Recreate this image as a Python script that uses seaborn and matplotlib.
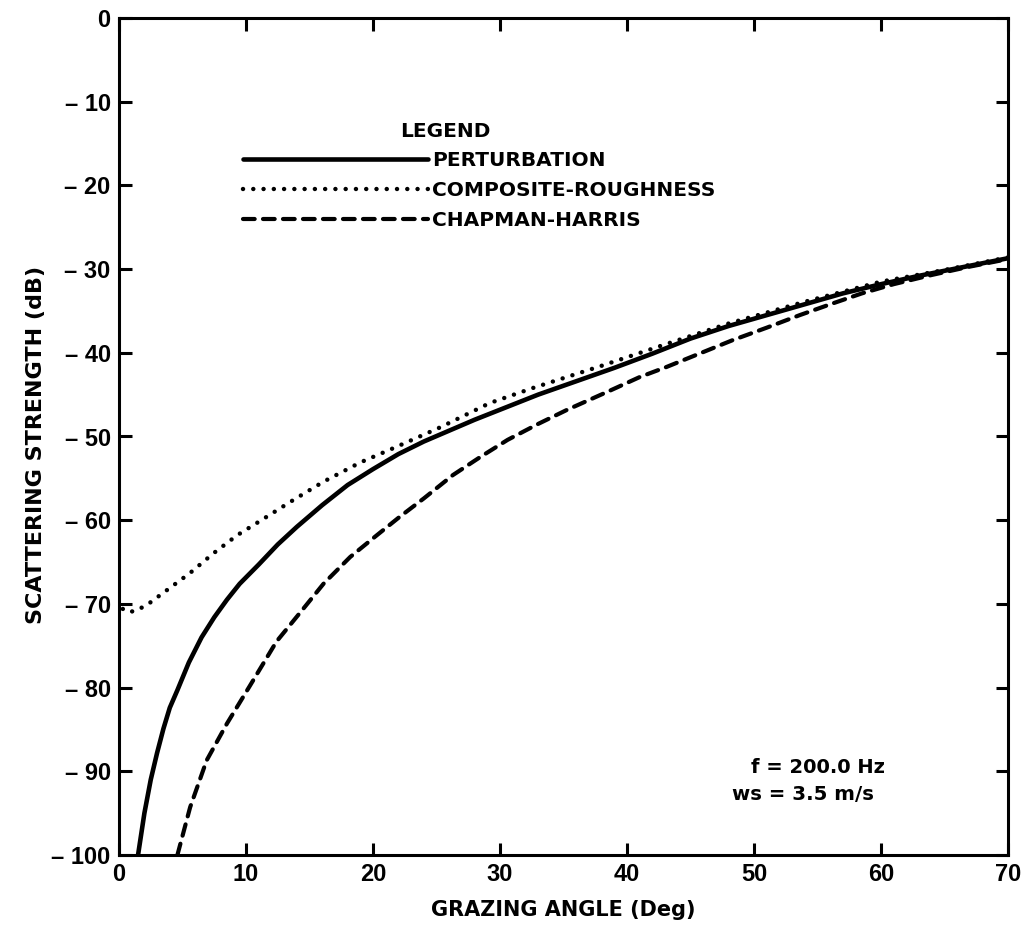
import numpy as np
import pandas as pd
import seaborn as sns
import matplotlib.pyplot as plt

# curves (grazing angle in deg, scattering strength in dB)
pert_angle = [1.5, 2.0, 2.5, 3.0, 3.5, 4.0, 4.6, 5.5, 6.5, 7.5, 8.5, 9.5, 11.0, 12.5, 14.0,
              16.0, 18.0, 20.0, 22.0, 24.0, 26.0, 28.0, 30.0, 33.0, 36.0, 39.0, 42.0, 45.0,
              48.0, 51.0, 54.0, 57.0, 60.0, 63.0, 66.0, 70.0]
pert_db = [-100, -95.0, -91.0, -87.8, -84.9, -82.4, -80.3, -77.0, -74.0, -71.6, -69.5, -67.6,
           -65.3, -62.9, -60.8, -58.2, -55.8, -53.9, -52.1, -50.6, -49.3, -48.0, -46.8, -45.0,
           -43.4, -41.8, -40.1, -38.3, -36.8, -35.5, -34.2, -32.9, -31.8, -30.8, -29.9, -28.7]

comp_angle = [0.3, 0.8, 1.5, 2.4, 3.2, 4.0, 5.6, 7.4, 9.3, 11.1, 13.5, 16.1, 19.0, 21.9, 25.3,
              29.2, 32.6, 37.9, 43.0, 48.0, 54.0, 60.0, 65.0, 70.0]
comp_db = [-70.6, -71.0, -70.7, -69.9, -69.0, -68.1, -66.3, -64.0, -61.8, -60.1, -57.8, -55.4,
           -53.1, -51.2, -48.9, -46.0, -44.2, -41.6, -39.0, -36.5, -33.9, -31.5, -30.1, -28.6]

chap_angle = [4.6, 5.6, 6.9, 8.5, 10.3, 12.4, 14.5, 16.1, 18.2, 20.3, 22.1, 24.0, 26.3, 28.5,
              30.6, 33.0, 35.3, 38.4, 41.0, 43.1, 45.7, 48.3, 51.0, 53.6, 56.2, 58.5, 61.0,
              64.0, 67.0, 70.0]
chap_db = [-100, -94.3, -88.7, -84.3, -79.8, -74.5, -70.6, -67.6, -64.4, -61.8, -59.6, -57.4,
           -54.6, -52.4, -50.4, -48.5, -46.8, -44.7, -42.9, -41.7, -40.1, -38.5, -37.0, -35.5,
           -34.1, -32.9, -31.8, -30.7, -29.7, -28.8]

models = ['PERTURBATION', 'COMPOSITE-ROUGHNESS', 'CHAPMAN-HARRIS']
xticks = [0, 10, 20, 30, 40, 50, 60, 70]
yticks = [0, -10, -20, -30, -40, -50, -60, -70, -80, -90, -100]
ytick_labels = ['0', '\u2013 10', '\u2013 20', '\u2013 30', '\u2013 40', '\u2013 50',
                '\u2013 60', '\u2013 70', '\u2013 80', '\u2013 90', '\u2013 100']

df = pd.concat([
    pd.DataFrame({'angle': pert_angle, 'db': pert_db, 'model': models[0]}),
    pd.DataFrame({'angle': comp_angle, 'db': comp_db, 'model': models[1]}),
    pd.DataFrame({'angle': chap_angle, 'db': chap_db, 'model': models[2]}),
])

sns.set_theme(style='ticks')
plt.rcParams['font.family'] = ['Liberation Sans', 'DejaVu Sans']
plt.rcParams['font.weight'] = 'bold'
plt.rcParams['text.color'] = 'black'
plt.rcParams['axes.labelcolor'] = 'black'

wide = ['DejaVu Sans']  # wider face for the captions

fig = plt.figure(figsize=(10.26, 9.30), dpi=100)
ax = fig.add_axes([119 / 1026, 1 - 855 / 930, 889 / 1026, 837 / 930])

sns.lineplot(data=df, x='angle', y='db', style='model', style_order=models,
             dashes={models[0]: '', models[1]: (0.01, 2.3), models[2]: (2.8, 2.0)},
             color='black', estimator=None, sort=False, legend=False, ax=ax)

widths = [3.3, 3.2, 3.0]
for line, w in zip(ax.lines, widths):
    line.set_linewidth(w)
    line.set_dash_capstyle('round')

ax.set_xlim(0, 70)
ax.set_ylim(-100, 0)
ax.set_xticks(xticks)
ax.set_xticklabels([str(t) for t in xticks])
ax.set_yticks(yticks)
ax.set_yticklabels(ytick_labels)
ax.tick_params(direction='in', top=True, right=True, length=9, width=2.2,
               labelsize=17, pad=6, colors='black')
for s in ax.spines.values():
    s.set_linewidth(2.2)
    s.set_color('black')
    s.set_visible(True)

ax.set_xlabel('GRAZING ANGLE (Deg)', fontsize=15, fontweight='bold', family=wide)
ax.set_ylabel('SCATTERING STRENGTH (dB)', fontsize=16, fontweight='bold', family=wide)
ax.xaxis.set_label_coords(0.5, -0.054)
ax.yaxis.set_label_coords(-0.082, 0.49)

leg = ax.legend(ax.lines, models, loc='upper left', frameon=False,
                prop={'family': wide, 'weight': 'bold', 'size': 14.5},
                bbox_to_anchor=(243 / 1026, 1 - 151 / 930), bbox_transform=fig.transFigure,
                borderpad=0, borderaxespad=0, handlelength=9.2, handletextpad=0.2,
                labelspacing=0.55)
ax.text(22.1, -13.6, 'LEGEND', fontsize=14.5, fontweight='bold', family=wide,
        va='center', ha='left')

ax.text(49.8, -89.5, 'f = 200.0 Hz', fontsize=14, fontweight='bold', family=wide,
        va='center', ha='left')
ax.text(48.3, -92.8, 'ws = 3.5 m/s', fontsize=14.2, fontweight='bold', family=wide,
        va='center', ha='left')

fig.savefig('out.png', dpi=100)
